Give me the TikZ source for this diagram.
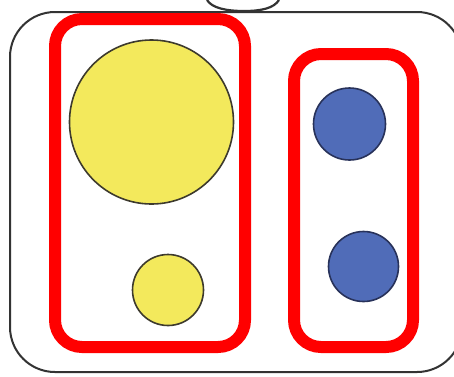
\documentclass[tikz,border=0pt]{standalone}
\begin{document}
\begin{tikzpicture}[x=1pt,y=-1pt,
  outerbox/.style={draw=black!80,line width=2pt,rounded corners=45pt},
  redbox/.style={draw=red,line width=12pt,rounded corners=27pt},
  ydisc/.style={draw=black!75!olive,line width=1.6pt,fill=yellowfill},
  bdisc/.style={draw=bluedark,line width=1.6pt,fill=bluefill}]
\definecolor{yellowfill}{RGB}{243,233,92}
\definecolor{bluefill}{RGB}{80,108,184}
\definecolor{bluedark}{RGB}{40,50,90}
\useasboundingbox (0,0) rectangle (454,376);
\clip (0,0) rectangle (454,376);
\fill[white] (0,0) rectangle (454,376);
% outer frame
\draw[outerbox] (10,12) rectangle (462,372);
% top tab
\draw[black!80,line width=2.2pt] (207,0) .. controls (212,8) and (226,11) .. (244,11) .. controls (262,11) and (274,8) .. (279,0);
% red groups
\draw[redbox] (55,19) rectangle (245,347);
\draw[redbox] (294,54) rectangle (413,347);
% discs
\node[ydisc,circle,minimum size=164pt,inner sep=0pt] (y1) at (151.5,122) {};
\node[ydisc,circle,minimum size=71pt,inner sep=0pt] (y2) at (168,290) {};
\node[bdisc,circle,minimum size=72pt,inner sep=0pt] (b1) at (349.5,124) {};
\node[bdisc,circle,minimum size=70pt,inner sep=0pt] (b2) at (363.5,266.5) {};
\end{tikzpicture}
\end{document}
